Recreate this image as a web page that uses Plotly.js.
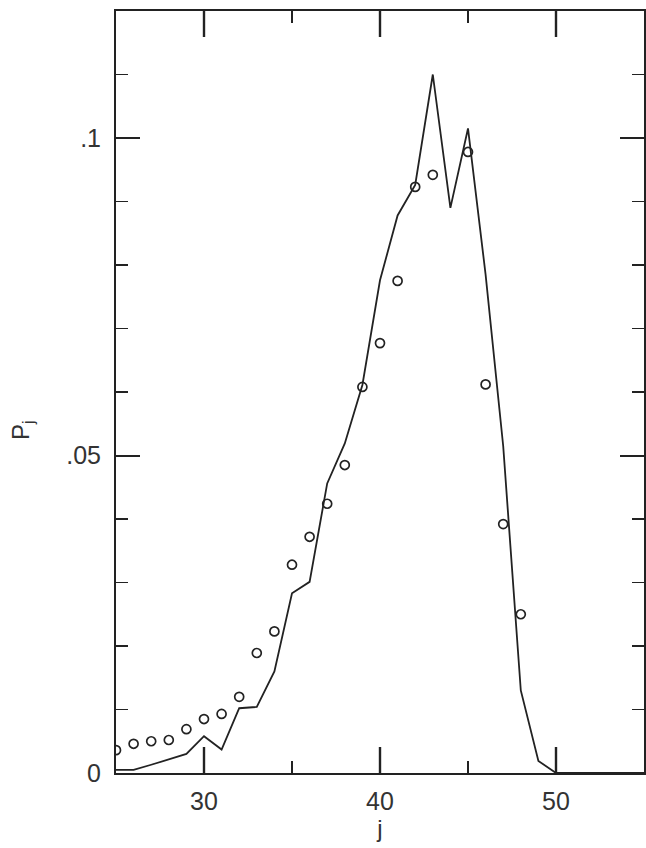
<!DOCTYPE html>
<html>
<head>
<meta charset="utf-8">
<script src="https://cdn.plot.ly/plotly-3.0.1.min.js"></script>
<style>
  html, body { margin: 0; padding: 0; background: #fff; }
  #chart { width: 646px; height: 848px; }
</style>
</head>
<body>
<div id="chart"></div>
<script>
// Solid line (model) values P_j by j
const lineJ = [25, 26, 27, 28, 29, 30, 31, 32, 33, 34, 35, 36, 37, 38, 39, 40,
               41, 42, 43, 44, 45, 46, 47, 48, 49, 50, 51, 52, 53, 54, 55];
const lineP = [0.0005, 0.0005, 0.0013, 0.0021, 0.0030, 0.0058, 0.0037, 0.0102, 0.0104, 0.0160,
               0.0283, 0.0301, 0.0456, 0.0519, 0.0611, 0.0776, 0.0878, 0.0926, 0.1100, 0.0890,
               0.1015, 0.0785, 0.0515, 0.0130, 0.0019, 0.0, 0.0, 0.0, 0.0, 0.0, 0.0];

// Open circles (data) values P_j by j
const dotJ = [25, 26, 27, 28, 29, 30, 31, 32, 33, 34, 35, 36, 37, 38, 39, 40,
              41, 42, 43, 45, 46, 47, 48];
const dotP = [0.0036, 0.0046, 0.0050, 0.0052, 0.0069, 0.0085, 0.0093, 0.0120, 0.0189, 0.0223,
              0.0328, 0.0372, 0.0424, 0.0485, 0.0608, 0.0677, 0.0775, 0.0923, 0.0942,
              0.0978, 0.0612, 0.0392, 0.0250];

// Axis ticks
const xMajorTicks = [30, 40, 50];
const xMinorTicks = [35, 45];
const yTickVals = [0, 0.05, 0.1];
const yTickText = ['0', '.05', '.1'];

const ink = '#222';
const fam = 'Liberation Sans, Arial, sans-serif';
const labelFont = { family: fam, size: 25, color: '#333' };
const yMax = 0.12;
const plotH = 848 - 11 - 75;

// Build inside tick segments (bottom and top) for the x axis from the tick lists
function tickSegs(vals, lenPx) {
  const len = lenPx / plotH * yMax;
  const xs = [], ys = [];
  vals.forEach(v => {
    xs.push(v, v, null, v, v, null);
    ys.push(0, len, null, yMax - len, yMax, null);
  });
  return { xs, ys };
}
const majSeg = tickSegs(xMajorTicks, 26);
const minSeg = tickSegs(xMinorTicks, 12);

const traces = [
  { x: majSeg.xs, y: majSeg.ys, type: 'scatter', mode: 'lines', connectgaps: false,
    line: { color: ink, width: 2.4 }, hoverinfo: 'skip', showlegend: false, cliponaxis: false },
  { x: minSeg.xs, y: minSeg.ys, type: 'scatter', mode: 'lines', connectgaps: false,
    line: { color: ink, width: 2 }, hoverinfo: 'skip', showlegend: false, cliponaxis: false },
  { x: lineJ, y: lineP, type: 'scatter', mode: 'lines',
    line: { color: ink, width: 1.8 }, hoverinfo: 'skip', showlegend: false },
  { x: dotJ, y: dotP, type: 'scatter', mode: 'markers',
    marker: { symbol: 'circle-open', size: 9, color: ink, line: { width: 1.7, color: ink } },
    showlegend: false }
];

const layout = {
  width: 646, height: 848,
  margin: { l: 116, r: 2, t: 11, b: 75 },
  paper_bgcolor: '#fff', plot_bgcolor: '#fff',
  showlegend: false,
  xaxis: {
    range: [25, 55], showgrid: false, zeroline: false,
    showline: true, linecolor: ink, linewidth: 2, mirror: 'ticks',
    tickmode: 'array', tickvals: xMajorTicks, ticktext: xMajorTicks.map(String),
    ticks: 'inside', ticklen: 26, tickwidth: 2.4, tickcolor: ink,
    tickfont: labelFont, ticklabelstandoff: 5,
    minor: { tickmode: 'array', tickvals: xMinorTicks, ticks: 'inside', ticklen: 12, tickwidth: 2, tickcolor: ink, showgrid: false },
    title: { text: 'j', font: { family: fam, size: 24, color: '#333' }, standoff: 2 }
  },
  yaxis: {
    range: [0, yMax], showgrid: false, zeroline: false,
    showline: true, linecolor: ink, linewidth: 2, mirror: 'ticks',
    ticks: 'inside', ticklen: 24, tickwidth: 2, tickcolor: ink,
    tickmode: 'array', tickvals: yTickVals, ticktext: yTickText,
    tickfont: labelFont, ticklabelstandoff: 8,
    minor: { dtick: 0.01, tick0: 0, ticks: 'inside', ticklen: 12, tickwidth: 1.8, tickcolor: ink, showgrid: false }
  },
  annotations: [
    { text: 'P<sub>j</sub>', xref: 'paper', yref: 'paper', x: -0.178, y: 0.45,
      xanchor: 'center', yanchor: 'middle', textangle: -90, showarrow: false,
      font: { family: fam, size: 24, color: '#333' } }
  ]
};

Plotly.newPlot('chart', traces, layout, { displayModeBar: false, staticPlot: true });
</script>
</body>
</html>
